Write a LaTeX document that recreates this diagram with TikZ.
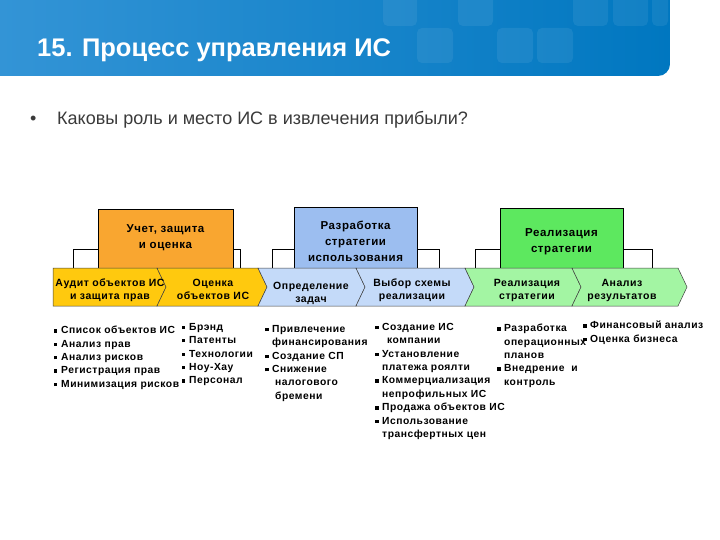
\documentclass[tikz,border=0pt]{standalone}
\usepackage{fontspec}
\setmainfont{Liberation Sans}
\newfontfamily\diagfont{Liberation Sans}[LetterSpace=5.0]
\usetikzlibrary{positioning}
\definecolor{bannerL}{HTML}{3394D6}
\definecolor{bannerR}{HTML}{0077C0}
\definecolor{stageOr}{HTML}{F9A630}
\definecolor{stageBl}{HTML}{9CBEF0}
\definecolor{stageGr}{HTML}{5DE85F}
\definecolor{phaseYl}{HTML}{FFC90E}
\definecolor{phaseBl}{HTML}{C4DAF9}
\definecolor{phaseGr}{HTML}{A3F5A3}
\definecolor{txtGray}{HTML}{3A3A3A}
\newcommand\itm{\makebox[7pt][l]{\rule[0.12em]{0.32em}{0.32em}}}
\newcommand\cnt[1][7pt]{\hspace*{#1}}
\tikzset{
  stage/.style = {rectangle, draw=black, line width=0.6pt, inner sep=0pt},
  stagetext/.style = {align=center, inner sep=0pt,
    font=\diagfont\bfseries\fontsize{11.5}{16}\selectfont},
  phase/.style = {draw=black!75, line width=0.5pt},
  phaselabel/.style = {align=center, inner sep=0pt,
    font=\diagfont\bfseries\fontsize{10.5}{13}\selectfont},
  itemlist/.style = {anchor=north west, align=left, inner sep=0pt,
    font=\diagfont\bfseries\fontsize{10.3}{13.4}\selectfont},
  bracket/.style = {draw=black, line width=0.6pt},
  tile/.style = {fill=white, fill opacity=0.07, rounded corners=5pt}
}

\begin{document}
\begin{tikzpicture}[x=1pt, y=-1pt]
\clip (0,0) rectangle (720,540);
\fill[white] (0,0) rectangle (720,540);

% header band
\shade[left color=bannerL, right color=bannerR]
  (0,0) -- (670,0) -- (670,64) arc[start angle=0, end angle=-90, radius=12pt] -- (0,76) -- cycle;
\fill[tile] (383,-10) rectangle (417,26);
\fill[tile] (458,-10) rectangle (493,26);
\fill[tile] (573,-10) rectangle (608,26);
\fill[tile] (613,-10) rectangle (648,26);
\fill[tile] (652,-10) rectangle (668,26);
\fill[tile] (417,28) rectangle (453,63);
\fill[tile] (497,28) rectangle (533,63);
\fill[tile] (537,28) rectangle (573,63);
\node[anchor=base west, inner sep=0pt, text=white,
  font=\bfseries\fontsize{25.5}{30}\selectfont] (title) at (37,57) {15. Процесс управления ИС};

\node[anchor=base west, inner sep=0pt, text=txtGray,
  font=\fontsize{18}{21}\selectfont] (quest) at (30,125)
  {\makebox[27pt][l]{•}Каковы роль и место ИС в извлечения прибыли?};

% upper stages
\node[stage, fill=stageOr, minimum width=135, minimum height=59] (acc) at (165.5,238.5) {};
\node[stage, fill=stageBl, minimum width=123, minimum height=61] (dev) at (355.5,237.5) {};
\node[stage, fill=stageGr, minimum width=123, minimum height=60] (impl) at (561.5,238) {};
\node[stagetext] (acctxt) at ([yshift=1pt]acc.center) {Учет, защита\\и оценка};
\node[stagetext] (devtxt) at ([yshift=-3.5pt]dev.center) {Разработка\\стратегии\\использования};
\node[stagetext] (impltxt) at ([yshift=-4pt]impl.center) {Реализация\\стратегии};

\coordinate (accL) at (73,268);
\coordinate (accR) at (240,268);
\coordinate (devL) at (272,268);
\coordinate (devR) at (439,268);
\coordinate (implL) at (475,268);
\coordinate (implR) at (652,268);
\draw[bracket] (accL) |- ([yshift=-10.5pt]acc.west);
\draw[bracket] (accR) |- ([yshift=-10.5pt]acc.east);
\draw[bracket] (devL) |- ([yshift=-11.5pt]dev.west);
\draw[bracket] (devR) |- ([yshift=-11.5pt]dev.east);
\draw[bracket] (implL) |- ([yshift=-11pt]impl.west);
\draw[bracket] (implR) |- ([yshift=-11pt]impl.east);

% process band
\filldraw[phase, fill=phaseYl] (53,268) -- (157,268) -- (166,287) -- (157,306) -- (53,306) -- cycle;
\filldraw[phase, fill=phaseYl] (157,268) -- (258,268) -- (267,287) -- (258,306) -- (157,306) -- (166,287) -- cycle;
\filldraw[phase, fill=phaseBl] (258,268) -- (356,268) -- (365,287) -- (356,306) -- (258,306) -- (267,287) -- cycle;
\filldraw[phase, fill=phaseBl] (356,268) -- (465,268) -- (474,287) -- (465,306) -- (356,306) -- (365,287) -- cycle;
\filldraw[phase, fill=phaseGr] (465,268) -- (572,268) -- (581,287) -- (572,306) -- (465,306) -- (474,287) -- cycle;
\filldraw[phase, fill=phaseGr] (572,268) -- (678,268) -- (687,287) -- (678,306) -- (572,306) -- (581,287) -- cycle;

\node[phaselabel] (audit) at (110,290.5) {Аудит объектов ИС\\и защита прав};
\node[phaselabel] (value) at (213,289.5) {Оценка\\объектов ИС};
\node[phaselabel] (tasks) at (311,293.5) {Определение\\задач};
\node[phaselabel] (scheme) at (412,290.5) {Выбор схемы\\реализации};
\node[phaselabel] (exec) at (527,290.5) {Реализация\\стратегии};
\node[phaselabel] (review) at (622,290.5) {Анализ\\результатов};

% item lists
\node[itemlist] (listA) at (54,326) {\itm Список объектов ИС\\\itm Анализ прав\\\itm Анализ рисков\\\itm Регистрация прав\\\itm Минимизация рисков};
\node[itemlist] (listB) at (182,323) {\itm Брэнд\\\itm Патенты\\\itm Технологии\\\itm Ноу-Хау\\\itm Персонал};
\node[itemlist] (listC) at (265,325) {\itm Привлечение\\\cnt финансирования\\\itm Создание СП\\\itm Снижение\\\cnt[10pt]налогового\\\cnt[10pt]бремени};
\node[itemlist] (listD) at (375,323) {\itm Создание ИС\\\cnt[12pt]компании\\\itm Установление\\\cnt платежа роялти\\\itm Коммерциализация\\\cnt непрофильных ИС\\\itm Продажа объектов ИС\\\itm Использование\\\cnt трансфертных цен};
\node[itemlist] (listE) at (497,324) {\itm Разработка\\\cnt операционных\\\cnt планов\\\itm Внедрение~ и\\\cnt контроль};
\node[itemlist] (listF) at (583,321) {\itm Финансовый анализ\\\itm Оценка бизнеса};

\end{tikzpicture}
\end{document}
